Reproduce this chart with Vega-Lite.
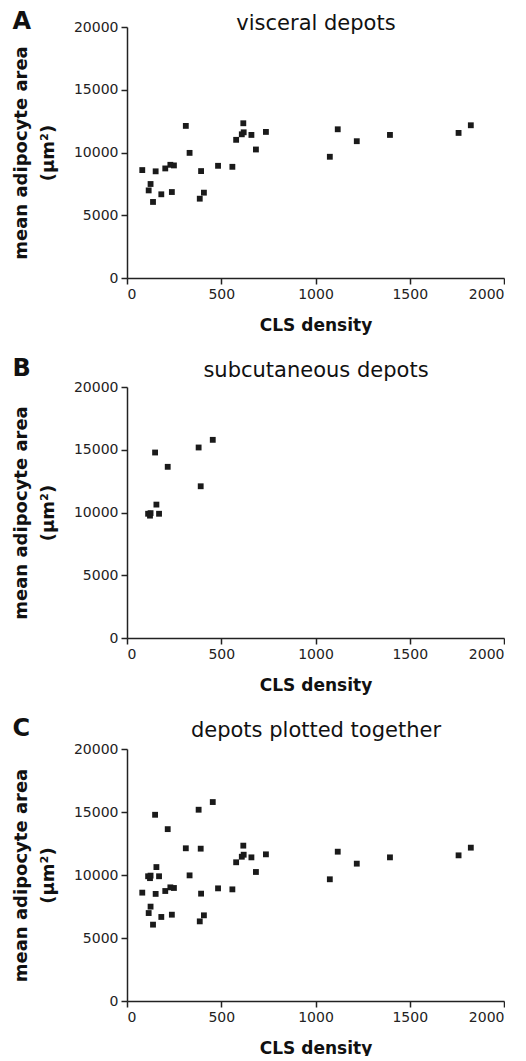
{
  "$schema": "https://vega.github.io/schema/vega-lite/v6.json",
  "padding": {"left": 12, "top": 10, "right": 0, "bottom": 0},
  "background": "white",
  "datasets": {
    "pts": [
      {"depot": "visceral", "cls": 81, "area": 8600},
      {"depot": "visceral", "cls": 152, "area": 8500},
      {"depot": "visceral", "cls": 203, "area": 8730},
      {"depot": "visceral", "cls": 230, "area": 9020},
      {"depot": "visceral", "cls": 249, "area": 8970},
      {"depot": "visceral", "cls": 125, "area": 7490},
      {"depot": "visceral", "cls": 115, "area": 6980},
      {"depot": "visceral", "cls": 182, "area": 6670},
      {"depot": "visceral", "cls": 238, "area": 6850},
      {"depot": "visceral", "cls": 138, "area": 6060},
      {"depot": "visceral", "cls": 312, "area": 12120},
      {"depot": "visceral", "cls": 332, "area": 9970},
      {"depot": "visceral", "cls": 393, "area": 8520},
      {"depot": "visceral", "cls": 408, "area": 6800},
      {"depot": "visceral", "cls": 386, "area": 6320},
      {"depot": "visceral", "cls": 483, "area": 8940},
      {"depot": "visceral", "cls": 559, "area": 8860},
      {"depot": "visceral", "cls": 579, "area": 11010},
      {"depot": "visceral", "cls": 609, "area": 11450},
      {"depot": "visceral", "cls": 619, "area": 11610},
      {"depot": "visceral", "cls": 617, "area": 12330},
      {"depot": "visceral", "cls": 660, "area": 11400},
      {"depot": "visceral", "cls": 684, "area": 10240},
      {"depot": "visceral", "cls": 737, "area": 11640},
      {"depot": "visceral", "cls": 1076, "area": 9660},
      {"depot": "visceral", "cls": 1118, "area": 11850},
      {"depot": "visceral", "cls": 1219, "area": 10900},
      {"depot": "visceral", "cls": 1395, "area": 11400},
      {"depot": "visceral", "cls": 1759, "area": 11560},
      {"depot": "visceral", "cls": 1824, "area": 12170},
      {"depot": "subcutaneous", "cls": 149, "area": 14780},
      {"depot": "subcutaneous", "cls": 216, "area": 13640},
      {"depot": "subcutaneous", "cls": 380, "area": 15180},
      {"depot": "subcutaneous", "cls": 455, "area": 15790},
      {"depot": "subcutaneous", "cls": 391, "area": 12090},
      {"depot": "subcutaneous", "cls": 156, "area": 10630},
      {"depot": "subcutaneous", "cls": 112, "area": 9900},
      {"depot": "subcutaneous", "cls": 122, "area": 9750},
      {"depot": "subcutaneous", "cls": 125, "area": 9950},
      {"depot": "subcutaneous", "cls": 170, "area": 9900}
    ]
  },
  "data": {"name": "pts"},
  "spacing": 24,
  "config": {
    "view": {"stroke": null},
    "axis": {
      "grid": false,
      "domainColor": "#222222",
      "tickColor": "#222222",
      "domainWidth": 1.5,
      "tickWidth": 1.5,
      "tickSize": 6,
      "labelFont": "DejaVu Sans",
      "labelFontSize": 14,
      "labelColor": "#222222",
      "labelPadding": 3,
      "titleFont": "DejaVu Sans",
      "titleFontWeight": "bold",
      "titleColor": "#111111"
    },
    "title": {"font": "DejaVu Sans", "fontSize": 24, "fontWeight": "bold", "color": "#111111", "anchor": "start", "frame": "bounds"}
  },
  "vconcat": [
    {
      "title": {"text": "A", "offset": -22},
      "width": 377,
      "height": 251,
      "transform": [{"filter": "datum.depot === 'visceral'"}],
      "layer": [
        {
          "mark": {"type": "square", "size": 34, "color": "#1a1a1a", "opacity": 1},
          "encoding": {
            "x": {"field": "cls", "type": "quantitative", "scale": {"domain": [0, 2000], "nice": false},
                  "axis": {"values": [0, 500, 1000, 1500, 2000], "format": "d", "title": "CLS density", "titleFontSize": 17, "titlePadding": 16}},
            "y": {"field": "area", "type": "quantitative", "scale": {"domain": [0, 20000], "nice": false},
                  "axis": {"values": [0, 5000, 10000, 15000, 20000], "format": "d", "title": ["mean adipocyte area", "(μm²)"], "titleFontSize": 18, "titleLineHeight": 27, "titlePadding": 16}}
          }
        },
        {
          "mark": {"type": "square", "opacity": 0},
          "encoding": {
            "x": {"field": "cls", "type": "quantitative",
                  "axis": {"orient": "top", "title": "visceral depots", "domain": false, "ticks": false, "labels": false, "titleFontSize": 21, "titleFontWeight": "normal", "titlePadding": -6}}
          }
        }
      ],
      "resolve": {"axis": {"x": "independent"}}
    },
    {
      "title": {"text": "B", "offset": -22},
      "width": 377,
      "height": 251,
      "transform": [{"filter": "datum.depot === 'subcutaneous'"}],
      "layer": [
        {
          "mark": {"type": "square", "size": 34, "color": "#1a1a1a", "opacity": 1},
          "encoding": {
            "x": {"field": "cls", "type": "quantitative", "scale": {"domain": [0, 2000], "nice": false},
                  "axis": {"values": [0, 500, 1000, 1500, 2000], "format": "d", "title": "CLS density", "titleFontSize": 17, "titlePadding": 16}},
            "y": {"field": "area", "type": "quantitative", "scale": {"domain": [0, 20000], "nice": false},
                  "axis": {"values": [0, 5000, 10000, 15000, 20000], "format": "d", "title": ["mean adipocyte area", "(μm²)"], "titleFontSize": 18, "titleLineHeight": 27, "titlePadding": 16}}
          }
        },
        {
          "mark": {"type": "square", "opacity": 0},
          "encoding": {
            "x": {"field": "cls", "type": "quantitative",
                  "axis": {"orient": "top", "title": "subcutaneous depots", "domain": false, "ticks": false, "labels": false, "titleFontSize": 21, "titleFontWeight": "normal", "titlePadding": 7}}
          }
        }
      ],
      "resolve": {"axis": {"x": "independent"}}
    },
    {
      "title": {"text": "C", "offset": -22},
      "width": 377,
      "height": 252,
      "layer": [
        {
          "mark": {"type": "square", "size": 34, "color": "#1a1a1a", "opacity": 1},
          "encoding": {
            "x": {"field": "cls", "type": "quantitative", "scale": {"domain": [0, 2000], "nice": false},
                  "axis": {"values": [0, 500, 1000, 1500, 2000], "format": "d", "title": "CLS density", "titleFontSize": 17, "titlePadding": 16}},
            "y": {"field": "area", "type": "quantitative", "scale": {"domain": [0, 20000], "nice": false},
                  "axis": {"values": [0, 5000, 10000, 15000, 20000], "format": "d", "title": ["mean adipocyte area", "(μm²)"], "titleFontSize": 18, "titleLineHeight": 27, "titlePadding": 16}}
          }
        },
        {
          "mark": {"type": "square", "opacity": 0},
          "encoding": {
            "x": {"field": "cls", "type": "quantitative",
                  "axis": {"orient": "top", "title": "depots plotted together", "domain": false, "ticks": false, "labels": false, "titleFontSize": 21, "titleFontWeight": "normal", "titlePadding": 9}}
          }
        }
      ],
      "resolve": {"axis": {"x": "independent"}}
    }
  ]
}
